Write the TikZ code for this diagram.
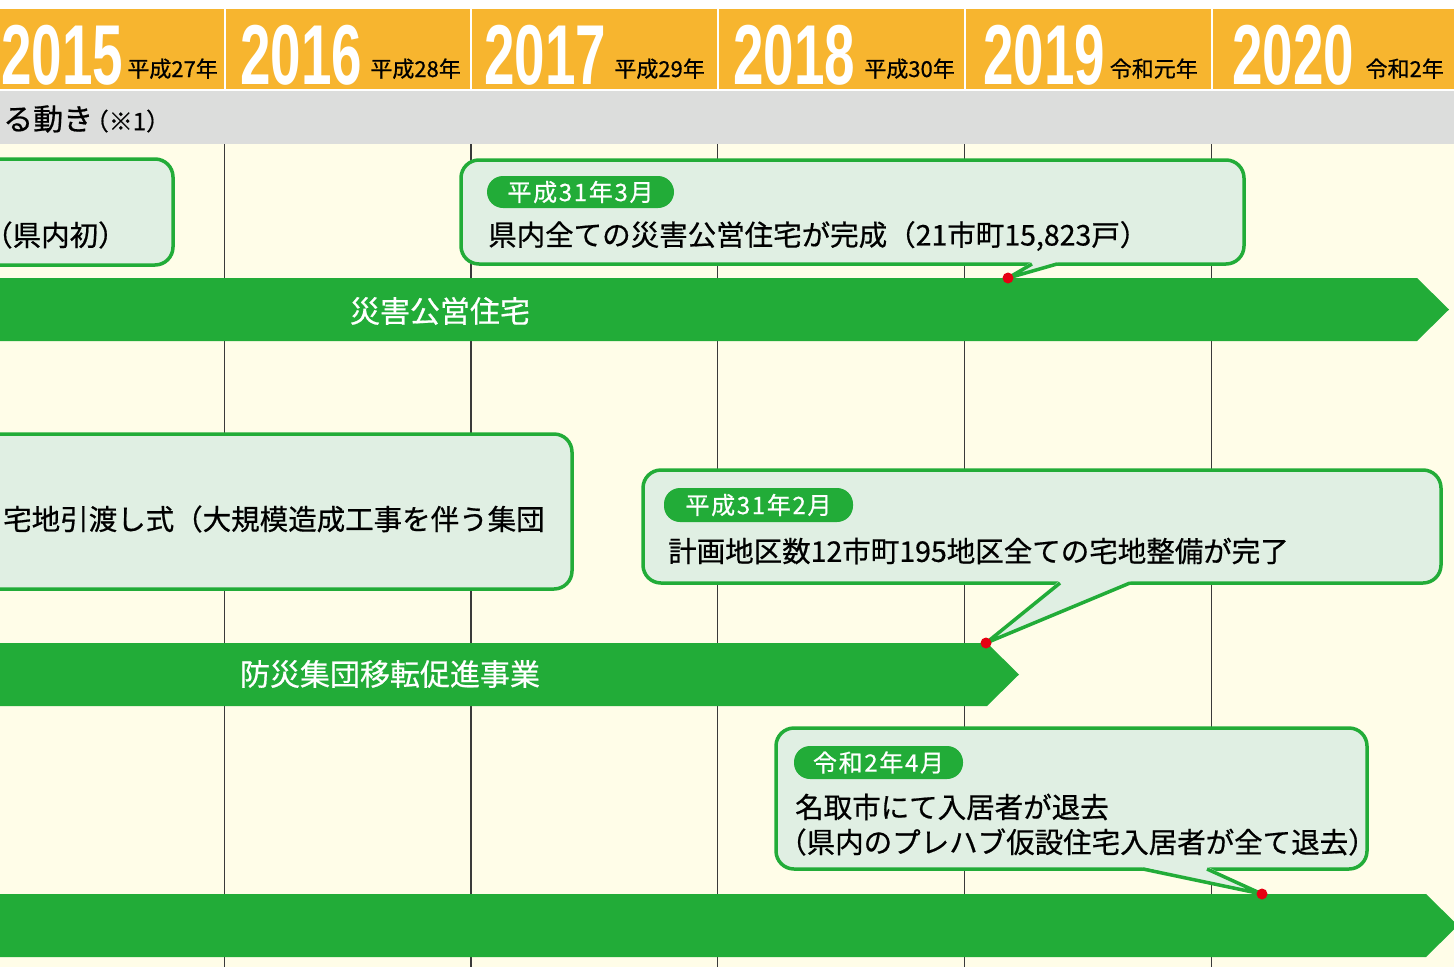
\documentclass[tikz,border=0pt]{standalone}
\usepackage{fontspec}
\usepackage{graphicx}
\setmainfont{Noto Sans CJK JP}[FakeBold=0.6]
\newfontfamily\yearfont{Liberation Sans}
\definecolor{corange}{HTML}{F7B52F}
\definecolor{cgray}{HTML}{DCDDDC}
\definecolor{cbg}{HTML}{FFFDE8}
\definecolor{cgreen}{HTML}{22AC38}
\definecolor{cfill}{HTML}{E0EFE3}
\definecolor{cred}{HTML}{E60012}
\definecolor{cline}{HTML}{3A3A3A}
\tikzset{
  yearnum/.style={anchor=base west, inner sep=0pt, text=white, font=\yearfont\bfseries\fontsize{85}{85}\selectfont},
  eralabel/.style={anchor=base east, inner sep=0pt, text=black, font=\fontsize{22}{22}\selectfont},
  callout/.style={draw=cgreen, line width=3.5pt, fill=cfill, rounded corners=18pt},
  pointerline/.style={draw=cgreen, line width=3.5pt, line join=miter},
  pill/.style={fill=cgreen, rounded corners=16pt, text=white, inner sep=0pt, font=\fontsize{24}{24}\selectfont\addfontfeature{LetterSpace=7}},
  maintext/.style={anchor=west, inner sep=0pt, text=black, font=\fontsize{28.5}{34}\selectfont},
  bandarrow/.style={fill=cgreen},
  arrowlabel/.style={inner sep=0pt, text=white, font=\fontsize{30}{30}\selectfont},
  gridline/.style={draw=cline, line width=1.1pt},
  reddot/.style={fill=cred}
}
\begin{document}
\begin{tikzpicture}[x=1pt,y=-1pt]
\useasboundingbox (0,0) rectangle (1454,967);
\clip (0,0) rectangle (1454,967);
% backgrounds
\fill[white] (0,0) rectangle (1454,967);
\fill[corange] (0,9) rectangle (1454,89);
\fill[cgray] (0,91) rectangle (1454,144);
\fill[cbg] (0,144) rectangle (1454,967);
\foreach \x in {224.5,471,717.5,964.5,1211.5}{
  \draw[white, line width=2pt] (\x,9) -- (\x,90);
  \draw[gridline] (\x,144) -- (\x,967);
}
% header years
\node[yearnum] (y15) at (1,84) {\scalebox{0.645}[1]{2015}};
\node[yearnum] (y16) at (240,84) {\scalebox{0.645}[1]{2016}};
\node[yearnum] (y17) at (484,84) {\scalebox{0.645}[1]{2017}};
\node[yearnum] (y18) at (733,84) {\scalebox{0.645}[1]{2018}};
\node[yearnum] (y19) at (983,84) {\scalebox{0.645}[1]{2019}};
\node[yearnum] (y20) at (1232,84) {\scalebox{0.645}[1]{2020}};
\node[eralabel] (e15) at (218,77) {平成27年};
\node[eralabel] (e16) at (461,77) {平成28年};
\node[eralabel] (e17) at (705,77) {平成29年};
\node[eralabel] (e18) at (955,77) {平成30年};
\node[eralabel] (e19) at (1198,77) {令和元年};
\node[eralabel] (e20) at (1444,77) {令和2年};
% gray band title
\node[anchor=west, inner sep=0pt, font=\fontsize{30}{30}\selectfont] (band) at (3,119) {る動き\fontsize{24}{24}\selectfont\hspace{-0.35em}（※1）};
% arrows
\fill[bandarrow] (-10,278) -- (1417,278) -- (1449,309.5) -- (1417,341) -- (-10,341) -- cycle;
\fill[bandarrow] (-10,643) -- (987,643) -- (1019,674.5) -- (987,706) -- (-10,706) -- cycle;
\fill[bandarrow] (-10,894) -- (1426,894) -- (1458,925.5) -- (1426,957) -- (-10,957) -- cycle;
\node[arrowlabel] (a1) at (440,311) {災害公営住宅};
\node[arrowlabel] (a2) at (390,674) {防災集団移転促進事業};
% callout 1
\draw[callout] (-30,159) rectangle (173,265);
\node[maintext] (t1) at (-16,235) {（県内初）};
% callout 2
\coordinate (tip2) at (1008,278);
\draw[callout] (461,160) rectangle (1244,264);
\fill[cfill] (1031,262) -- (1058,262) -- (tip2) -- cycle;
\draw[pointerline] (1032,264) -- (tip2) -- (1057,264);
\node[pill, minimum width=187pt, minimum height=32pt] (p2) at (580.5,192) {平成31年3月};
\node[maintext] (t2) at (488,236) {県内全ての災害公営住宅が完成（21市町15,823戸）};
\fill[reddot] (tip2) circle (5.5);
% callout 3
\draw[callout] (-30,434) rectangle (572,589);
\node[maintext] (t3) at (3,519) {宅地引渡し式（大規模造成工事を伴う集団};
% callout 4
\coordinate (tip4) at (986,643);
\draw[callout] (643,470) rectangle (1441,583);
\fill[cfill] (1059,581) -- (1131,581) -- (tip4) -- cycle;
\draw[pointerline] (1060,583) -- (tip4) -- (1130,583);
\node[pill, minimum width=189pt, minimum height=34pt] (p4) at (758.5,505) {平成31年2月};
\node[maintext] (t4) at (668,551) {計画地区数12市町195地区全ての宅地整備が完了};
\fill[reddot] (tip4) circle (5.5);
% callout 5
\coordinate (tip5) at (1262,894);
\draw[callout] (776,728) rectangle (1367,869);
\fill[cfill] (1142,867) -- (1208,867) -- (tip5) -- cycle;
\draw[pointerline] (1143,869) -- (tip5) -- (1207,869);
\node[pill, minimum width=169pt, minimum height=33pt] (p5) at (878.5,762.5) {令和2年4月};
\node[maintext] (t5a) at (795,807) {名取市にて入居者が退去};
\node[maintext] (t5b) at (778,842) {（県内のプレハブ仮設住宅入居者が全て退去）};
\fill[reddot] (tip5) circle (5.5);
\end{tikzpicture}
\end{document}
